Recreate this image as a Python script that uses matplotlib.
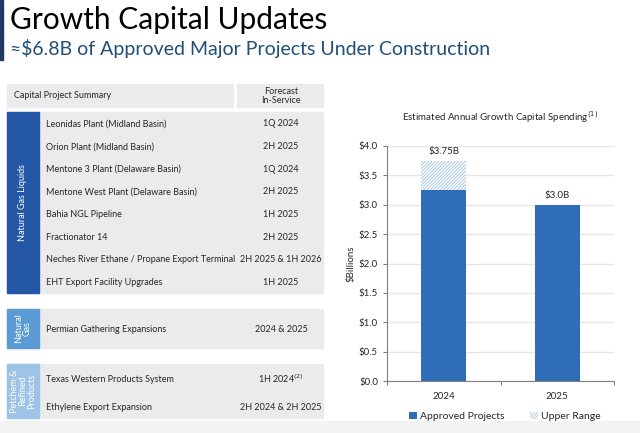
import matplotlib.pyplot as plt
from matplotlib.patches import Rectangle

plt.rcParams['font.family'] = ['Lato', 'DejaVu Sans']
plt.rcParams['hatch.linewidth'] = 0.6

# ---- data ----
ngl_projects = ['Leonidas Plant (Midland Basin)', 'Orion Plant (Midland Basin)',
                'Mentone 3 Plant (Delaware Basin)', 'Mentone West Plant (Delaware Basin)',
                'Bahia NGL Pipeline', 'Fractionator 14',
                'Neches River Ethane / Propane Export Terminal', 'EHT Export Facility Upgrades']
ngl_dates = ['1Q 2024', '2H 2025', '1Q 2024', '2H 2025', '1H 2025', '2H 2025',
             '2H 2025 & 1H 2026', '1H 2025']
gas_projects = ['Permian Gathering Expansions']
gas_dates = ['2024 & 2025']
pet_projects = ['Texas Western Products System', 'Ethylene Export Expansion']
pet_dates = ['1H 2024$^{(2)}$', '2H 2024 & 2H 2025']

years = ['2024', '2025']
approved = [3.25, 3.0]
upper = [0.5, 0.0]
totals_lbl = ['$3.75B', '$3.0B']
yticks = [0, 0.5, 1.0, 1.5, 2.0, 2.5, 3.0, 3.5, 4.0]

txt = '#262626'
fs = 6.5
fig = plt.figure(figsize=(6.4, 4.33), dpi=100)

# overlay in pixel coords
bg = fig.add_axes([0, 0, 1, 1])
bg.set_xlim(0, 640)
bg.set_ylim(433, 0)
bg.axis('off')

bg.add_patch(Rectangle((0, 0), 3, 60, color='#1F3864'))
bg.add_patch(Rectangle((0, 421), 640, 12, color='#F3F3F3'))
bg.text(10, 20, 'Growth Capital Updates', fontsize=21.5, va='center', color='black')
bg.text(10, 48, '≈$6.8B of Approved Major Projects Under Construction',
        fontsize=14, va='center', color='#1F4E79')

# header
bg.add_patch(Rectangle((7, 84), 226, 23, color='#EBEBEB'))
bg.add_patch(Rectangle((237, 84), 86, 23, color='#EBEBEB'))
bg.text(14, 96, 'Capital Project Summary', fontsize=fs, va='center', color=txt)
bg.text(281, 96, 'Forecast\nIn-Service', fontsize=fs, va='center', ha='center',
        color=txt, linespacing=0.95)


def block(y0, y1, color, label, names, dates, ys):
    bg.add_patch(Rectangle((7, y0), 316, y1 - y0, color='#EBEBEB'))
    bg.add_patch(Rectangle((7, y0), 32, y1 - y0, color=color))
    bg.text(23, (y0 + y1) / 2, label, rotation=90, color='white', fontsize=fs,
            ha='center', va='center', linespacing=0.9)
    for n, d, y in zip(names, dates, ys):
        bg.text(46, y, n, fontsize=fs, va='center', color=txt)
        bg.text(281, y, d, fontsize=fs, va='center', ha='center', color=txt)


block(112, 293, '#2458A6', 'Natural Gas Liquids', ngl_projects, ngl_dates,
      [124 + 22.6 * i for i in range(len(ngl_projects))])
block(309, 348, '#5B9BD5', 'Natural\nGas', gas_projects, gas_dates, [329])
block(364, 418, '#9DC3E6', 'Petchem &\nRefined\nProducts', pet_projects, pet_dates, [379, 407])

# ---- chart ----
ax = fig.add_axes([387 / 640, 52 / 433, 227 / 640, 235 / 433])
x = range(len(years))
ax.bar(x, approved, width=0.4, color='#2F6DB8', label='Approved Projects', zorder=3)
ax.bar(x, upper, width=0.4, bottom=approved, color='white', edgecolor='#9FC2E6',
       hatch='//////////', linewidth=0, label='Upper Range', zorder=3)
for i in x:
    ax.text(i, approved[i] + upper[i] + 0.08, totals_lbl[i], ha='center', va='bottom',
            fontsize=7, color=txt)
ax.set_xlim(-0.5, 1.5)
ax.set_ylim(0, 4.0)
ax.set_yticks(yticks)
ax.set_yticklabels(['$%.1f' % v for v in yticks])
ax.set_xticks([-0.5, 0.5, 1.5], minor=False)
ax.set_xticklabels([])
ax.set_xticks(list(x), minor=True)
ax.set_xticklabels(years, minor=True)
ax.tick_params(axis='x', which='minor', length=0, pad=8, labelsize=7, colors=txt)
ax.tick_params(axis='x', which='major', length=3, color='#808080')
ax.tick_params(axis='y', length=3, labelsize=7, colors=txt, color='#808080')
ax.grid(axis='y', color='#E6E6E6', linewidth=1, zorder=0)
for s in ['top', 'right']:
    ax.spines[s].set_visible(False)
ax.spines['left'].set_color('#808080')
ax.spines['bottom'].set_color('#808080')
ax.set_ylabel('$Billions', fontsize=7, color=txt, labelpad=2)
ax.set_title('Estimated Annual Growth Capital Spending$^{(1)}$', fontsize=7,
             color=txt, pad=18)
ax.legend(loc='upper center', bbox_to_anchor=(0.52, -0.09), ncol=2, frameon=False,
          fontsize=7.5, handlelength=0.8, handleheight=0.8, handletextpad=0.3,
          columnspacing=2.4, labelcolor=txt)

fig.savefig('out.png', dpi=100)
